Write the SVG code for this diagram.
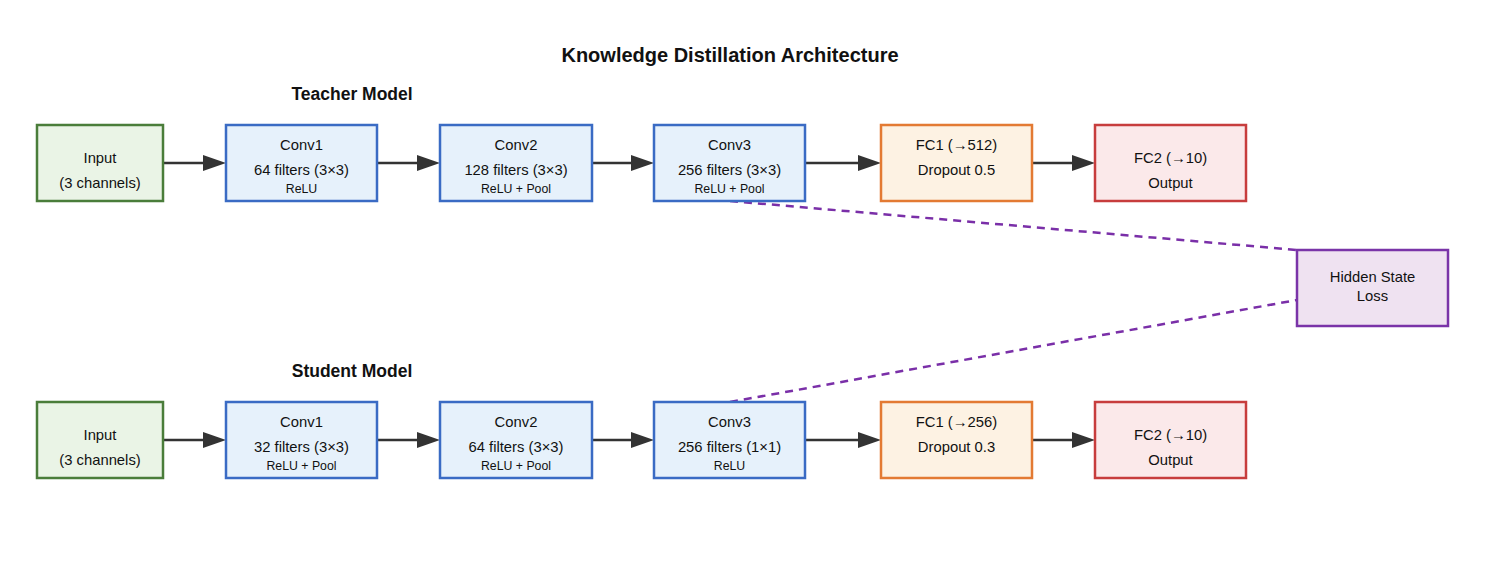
<svg xmlns="http://www.w3.org/2000/svg" width="1494" height="570" viewBox="0 0 1494 570">
<style>
text{font-family:"Liberation Sans",Arial,sans-serif;fill:#111;text-anchor:middle}
.t{font-size:14.8px}
.s{font-size:12.3px}
.h{font-weight:bold;font-size:17.5px}
.title{font-weight:bold;font-size:20px}
rect{stroke-width:2.5}
.in{fill:#eaf4e6;stroke:#4a7d3a}
.cv{fill:#e6f1fb;stroke:#3a6bc4}
.fc{fill:#fdf2e3;stroke:#e37a33}
.out{fill:#fbe9ea;stroke:#c73d3d}
.hs{fill:#efe2f1;stroke:#7a34a8}
.d{stroke:#7a2fa8;stroke-width:2.5;fill:none;stroke-dasharray:8 6}
.l{stroke:#333;stroke-width:2.5;fill:none}
.ah{fill:#333}
</style>
<rect width="1494" height="570" fill="#fff" style="stroke:none"/>
<text class="title" x="730" y="62">Knowledge Distillation Architecture</text>
<text class="h" x="352" y="100">Teacher Model</text>
<text class="h" x="352" y="377">Student Model</text>
<g id="connectors">
<path class="d" d="M730,201 L1297,250"/>
<path class="d" d="M730,402 L1297,300"/>
<path class="l" d="M163,163 H205"/><path class="ah" d="M203,155 L226,163 L203,171 Z"/>
<path class="l" d="M377,163 H419"/><path class="ah" d="M417,155 L440,163 L417,171 Z"/>
<path class="l" d="M592,163 H633"/><path class="ah" d="M631,155 L654,163 L631,171 Z"/>
<path class="l" d="M805,163 H860"/><path class="ah" d="M858,155 L881,163 L858,171 Z"/>
<path class="l" d="M1032,163 H1074"/><path class="ah" d="M1072,155 L1095,163 L1072,171 Z"/>
<path class="l" d="M163,440 H205"/><path class="ah" d="M203,432 L226,440 L203,448 Z"/>
<path class="l" d="M377,440 H419"/><path class="ah" d="M417,432 L440,440 L417,448 Z"/>
<path class="l" d="M592,440 H633"/><path class="ah" d="M631,432 L654,440 L631,448 Z"/>
<path class="l" d="M805,440 H860"/><path class="ah" d="M858,432 L881,440 L858,448 Z"/>
<path class="l" d="M1032,440 H1074"/><path class="ah" d="M1072,432 L1095,440 L1072,448 Z"/>
</g>
<g id="t_input"><rect class="in" x="37" y="125" width="126" height="76"/><text class="t" x="100" y="163">Input</text><text class="t" x="100" y="188">(3 channels)</text></g>
<g id="t_conv1"><rect class="cv" x="226" y="125" width="151" height="76"/><text class="t" x="301.5" y="150">Conv1</text><text class="t" x="301.5" y="175">64 filters (3×3)</text><text class="s" x="301.5" y="193">ReLU</text></g>
<g id="t_conv2"><rect class="cv" x="440" y="125" width="152" height="76"/><text class="t" x="516" y="150">Conv2</text><text class="t" x="516" y="175">128 filters (3×3)</text><text class="s" x="516" y="193">ReLU + Pool</text></g>
<g id="t_conv3"><rect class="cv" x="654" y="125" width="151" height="76"/><text class="t" x="729.5" y="150">Conv3</text><text class="t" x="729.5" y="175">256 filters (3×3)</text><text class="s" x="729.5" y="193">ReLU + Pool</text></g>
<g id="t_fc1"><rect class="fc" x="881" y="125" width="151" height="76"/><text class="t" x="956.5" y="150">FC1 (→512)</text><text class="t" x="956.5" y="175">Dropout 0.5</text></g>
<g id="t_fc2"><rect class="out" x="1095" y="125" width="151" height="76"/><text class="t" x="1170.5" y="163">FC2 (→10)</text><text class="t" x="1170.5" y="188">Output</text></g>
<g id="hidden_loss"><rect class="hs" x="1297" y="250" width="151" height="76"/><text class="t" x="1372.5" y="282">Hidden State</text><text class="t" x="1372.5" y="301">Loss</text></g>
<g id="s_input"><rect class="in" x="37" y="402" width="126" height="76"/><text class="t" x="100" y="440">Input</text><text class="t" x="100" y="465">(3 channels)</text></g>
<g id="s_conv1"><rect class="cv" x="226" y="402" width="151" height="76"/><text class="t" x="301.5" y="427">Conv1</text><text class="t" x="301.5" y="452">32 filters (3×3)</text><text class="s" x="301.5" y="470">ReLU + Pool</text></g>
<g id="s_conv2"><rect class="cv" x="440" y="402" width="152" height="76"/><text class="t" x="516" y="427">Conv2</text><text class="t" x="516" y="452">64 filters (3×3)</text><text class="s" x="516" y="470">ReLU + Pool</text></g>
<g id="s_conv3"><rect class="cv" x="654" y="402" width="151" height="76"/><text class="t" x="729.5" y="427">Conv3</text><text class="t" x="729.5" y="452">256 filters (1×1)</text><text class="s" x="729.5" y="470">ReLU</text></g>
<g id="s_fc1"><rect class="fc" x="881" y="402" width="151" height="76"/><text class="t" x="956.5" y="427">FC1 (→256)</text><text class="t" x="956.5" y="452">Dropout 0.3</text></g>
<g id="s_fc2"><rect class="out" x="1095" y="402" width="151" height="76"/><text class="t" x="1170.5" y="440">FC2 (→10)</text><text class="t" x="1170.5" y="465">Output</text></g>
</svg>
